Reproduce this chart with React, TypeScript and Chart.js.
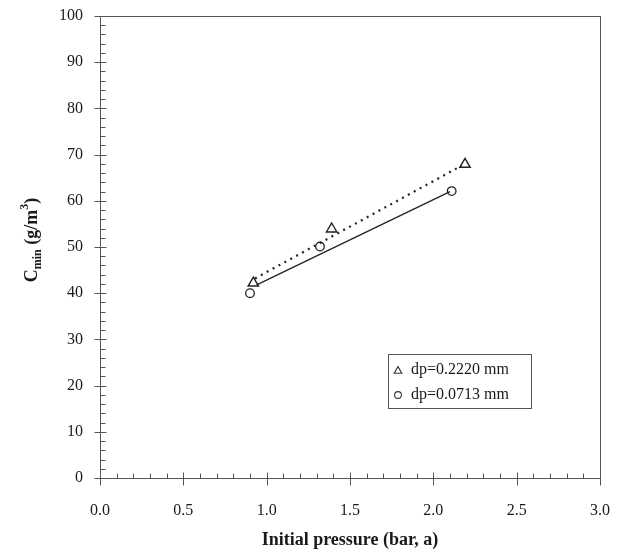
import React, { useEffect, useRef } from 'react';
import { Chart, registerables } from 'chart.js';

Chart.register(...registerables);

// ---- data ----
const triX = [0.92, 1.39, 2.19];
const triY = [42.2, 53.9, 67.9];
const cirX = [0.9, 1.32, 2.11];
const cirY = [40.0, 50.1, 62.1];
const triFitX = [0.93, 2.17];
const triFitY = [43.2, 67.6];
const cirFitX = [0.94, 2.1];
const cirFitY = [41.8, 62.0];
const seriesLabels = ['dp=0.2220 mm', 'dp=0.0713 mm'];
const xTitle = 'Initial pressure (bar, a)';
const yTitleParts = ['C', 'min', ' (g/m', '3', ')'];
const xMin = 0, xMax = 3, xStep = 0.5, xMinor = 0.1;
const yMin = 0, yMax = 100, yStep = 10, yMinor = 2;

const FONT = "'Liberation Serif', 'Times New Roman', serif";
const AXIS = '#555';
const INK = '#1a1a1a';

const pts = (xs: number[], ys: number[]) => xs.map((x, i) => ({ x, y: ys[i] }));

function drawTri(ctx: CanvasRenderingContext2D, cx: number, cy: number, r: number) {
  ctx.beginPath();
  ctx.moveTo(cx, cy - r);
  ctx.lineTo(cx + r * Math.cos(Math.PI / 6), cy + r / 2);
  ctx.lineTo(cx - r * Math.cos(Math.PI / 6), cy + r / 2);
  ctx.closePath();
  ctx.stroke();
}
function drawCirc(ctx: CanvasRenderingContext2D, cx: number, cy: number, r: number) {
  ctx.beginPath();
  ctx.arc(cx, cy, r, 0, Math.PI * 2);
  ctx.stroke();
}

const framePlugin = {
  id: 'frameTicks',
  beforeDatasetsDraw(chart: any) {
    const { ctx, chartArea: a, scales } = chart;
    const xs = scales.x, ys = scales.y;
    ctx.save();
    ctx.strokeStyle = AXIS;
    ctx.lineWidth = 1;
    const L = Math.round(a.left) + 0.5, R = Math.round(a.right) + 0.5;
    const T = Math.round(a.top) + 0.5, B = Math.round(a.bottom) + 0.5;
    ctx.strokeRect(L, T, R - L, B - T);
    ctx.beginPath();
    const ny = Math.round((yMax - yMin) / yMinor);
    for (let i = 0; i <= ny; i++) {
      const v = yMin + i * yMinor;
      const py = Math.round(ys.getPixelForValue(v)) + 0.5;
      const major = Math.abs(v % yStep) < 1e-9;
      ctx.moveTo(L - (major ? 6 : 0), py);
      ctx.lineTo(L + (major ? 6 : 5), py);
    }
    const nx = Math.round((xMax - xMin) / xMinor);
    for (let i = 0; i <= nx; i++) {
      const v = xMin + i * xMinor;
      const px = Math.round(xs.getPixelForValue(v)) + 0.5;
      const major = i % Math.round(xStep / xMinor) === 0;
      ctx.moveTo(px, B + (major ? 7 : 0));
      ctx.lineTo(px, B - (major ? 6 : 5));
    }
    ctx.stroke();
    ctx.restore();
  },
  afterDraw(chart: any) {
    const { ctx, chartArea: a } = chart;
    ctx.save();
    // x title
    ctx.fillStyle = INK;
    ctx.font = `bold 18px ${FONT}`;
    ctx.textAlign = 'center';
    ctx.textBaseline = 'alphabetic';
    ctx.fillText(xTitle, (a.left + a.right) / 2, 545);
    // y title with sub/superscript
    ctx.translate(37, (a.top + a.bottom) / 2 - 7);
    ctx.rotate(-Math.PI / 2);
    ctx.textAlign = 'left';
    const parts = [
      { t: yTitleParts[0], s: 18, dy: 0 },
      { t: yTitleParts[1], s: 12, dy: 4 },
      { t: yTitleParts[2], s: 18, dy: 0 },
      { t: yTitleParts[3], s: 12, dy: -9 },
      { t: yTitleParts[4], s: 18, dy: 0 },
    ];
    let total = 0;
    const widths = parts.map((p) => {
      ctx.font = `bold ${p.s}px ${FONT}`;
      const w = ctx.measureText(p.t).width;
      total += w;
      return w;
    });
    let xx = -total / 2;
    parts.forEach((p, i) => {
      ctx.font = `bold ${p.s}px ${FONT}`;
      ctx.fillText(p.t, xx, p.dy);
      xx += widths[i];
    });
    ctx.restore();

    // legend box
    ctx.save();
    const bx = 388.5, by = 354.5, bw = 143, bh = 54;
    ctx.strokeStyle = AXIS;
    ctx.lineWidth = 1;
    ctx.fillStyle = '#fff';
    ctx.fillRect(bx, by, bw, bh);
    ctx.strokeRect(bx, by, bw, bh);
    ctx.fillStyle = INK;
    ctx.font = `16px ${FONT}`;
    ctx.textAlign = 'left';
    ctx.textBaseline = 'middle';
    ctx.strokeStyle = '#333';
    ctx.lineWidth = 1.1;
    drawTri(ctx, 398, 371, 4.4);
    ctx.fillText(seriesLabels[0], 411, 370);
    drawCirc(ctx, 398, 395, 3.4);
    ctx.fillText(seriesLabels[1], 411, 395);
    ctx.restore();
  },
};

export default function App() {
  const ref = useRef<HTMLCanvasElement>(null);
  useEffect(() => {
    document.body.style.margin = '0';
    const chart = new Chart(ref.current!, {
      type: 'scatter',
      data: {
        datasets: [
          {
            label: seriesLabels[0] + ' fit',
            data: pts(triFitX, triFitY),
            showLine: true,
            borderColor: '#222',
            borderWidth: 2.2,
            borderDash: [2, 4.7],
            pointRadius: 0,
            fill: false,
          },
          {
            label: seriesLabels[1] + ' fit',
            data: pts(cirFitX, cirFitY),
            showLine: true,
            borderColor: '#222',
            borderWidth: 1.3,
            pointRadius: 0,
            fill: false,
          },
          {
            label: seriesLabels[0],
            data: pts(triX, triY),
            pointStyle: 'triangle',
            pointRadius: 6,
            borderColor: '#222',
            borderWidth: 1.4,
            backgroundColor: 'rgba(255,255,255,0)',
          },
          {
            label: seriesLabels[1],
            data: pts(cirX, cirY),
            pointStyle: 'circle',
            pointRadius: 4.3,
            borderColor: '#222',
            borderWidth: 1.3,
            backgroundColor: 'rgba(255,255,255,0)',
          },
        ],
      },
      options: {
        animation: false,
        responsive: true,
        maintainAspectRatio: false,
        layout: { padding: { top: 16, right: 21, left: 0, bottom: 0 } },
        plugins: { legend: { display: false }, tooltip: { enabled: false } },
        scales: {
          x: {
            type: 'linear',
            min: xMin,
            max: xMax,
            grid: { display: false, drawTicks: false },
            border: { display: false },
            ticks: {
              stepSize: xStep,
              padding: 23,
              color: INK,
              font: { family: FONT, size: 16 },
              maxRotation: 0,
              callback: (v: any) => Number(v).toFixed(1),
            },
            afterFit: (s: any) => {
              s.height = 80;
              s.paddingLeft = 0;
              s.paddingRight = 0;
            },
          },
          y: {
            type: 'linear',
            min: yMin,
            max: yMax,
            grid: { display: false, drawTicks: false },
            border: { display: false },
            ticks: {
              stepSize: yStep,
              padding: 17,
              color: INK,
              font: { family: FONT, size: 16 },
            },
            afterFit: (s: any) => {
              s.width = 100;
              s.paddingTop = 0;
              s.paddingBottom = 0;
            },
          },
        },
      },
      plugins: [framePlugin],
    });
    return () => chart.destroy();
  }, []);
  return (
    <div style={{ width: 621, height: 558, position: 'relative' }}>
      <canvas ref={ref} />
    </div>
  );
}
